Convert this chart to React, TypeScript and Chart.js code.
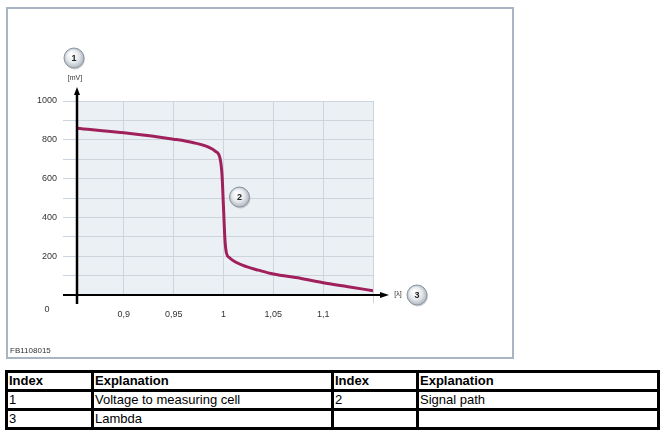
import React, { useEffect, useRef } from 'react';
import { Chart, registerables } from 'chart.js';
Chart.register(...registerables);

// Lambda (x) values and sensor voltage in mV (y)
const lambdaValues = [0.853, 0.9, 0.95, 0.97, 0.985, 0.992, 0.9965, 0.9985, 1.0, 1.0015, 1.003, 1.006, 1.012, 1.023, 1.035, 1.05, 1.077, 1.1, 1.125, 1.15];
const voltageValues = [860, 836, 803, 785, 762, 740, 705, 620, 450, 280, 215, 192, 170, 146, 128, 108, 86, 63, 43, 22];
const xTickValues = [0.9, 0.95, 1, 1.05, 1.1, 1.15];
const xTickLabels = ['0,9', '0,95', '1', '1,05', '1,1', ''];
const yLabelValues = [200, 400, 600, 800, 1000];
const callouts = ['1', '2', '3'];
const yUnit = '[mV]';
const xUnit = '[\u03bb]';
const figureId = 'FB1108015';
const tableHeader = ['Index', 'Explanation', 'Index', 'Explanation'];
const tableRows = [
  ['1', 'Voltage to measuring cell', '2', 'Signal path'],
  ['3', 'Lambda', '', ''],
];

const FONT = 'Arial, "Liberation Sans", sans-serif';

function drawCallout(ctx: CanvasRenderingContext2D, x: number, y: number, label: string) {
  const r = 10;
  ctx.save();
  ctx.beginPath();
  ctx.arc(x + 1, y + 1.5, r, 0, Math.PI * 2);
  ctx.fillStyle = 'rgba(120,130,140,0.35)';
  ctx.fill();
  const g = ctx.createRadialGradient(x - 3, y - 4, 1, x, y, r);
  g.addColorStop(0, '#ffffff');
  g.addColorStop(0.6, '#e4e8ec');
  g.addColorStop(1, '#aeb6be');
  ctx.beginPath();
  ctx.arc(x, y, r, 0, Math.PI * 2);
  ctx.fillStyle = g;
  ctx.fill();
  ctx.lineWidth = 1;
  ctx.strokeStyle = '#8d969f';
  ctx.stroke();
  ctx.fillStyle = '#222';
  ctx.font = 'bold 9px ' + FONT;
  ctx.textAlign = 'center';
  ctx.textBaseline = 'middle';
  ctx.fillText(label, x, y + 0.5);
  ctx.restore();
}

const decoPlugin = {
  id: 'deco',
  beforeDraw(chart: any) {
    const { ctx, chartArea } = chart;
    ctx.save();
    ctx.fillStyle = '#ffffff';
    ctx.fillRect(0, 0, chart.width, chart.height);
    ctx.fillStyle = '#ebf0f5';
    ctx.fillRect(chartArea.left, chartArea.top, chartArea.right - chartArea.left, chartArea.bottom - chartArea.top);
    ctx.strokeStyle = '#a9b5c3';
    ctx.lineWidth = 2;
    ctx.strokeRect(7, 8, 506, 350);
    ctx.restore();
  },
  afterDraw(chart: any) {
    const { ctx, chartArea, scales } = chart;
    const xs = scales.x, ys = scales.y;
    const x0 = chartArea.left;
    const y0 = ys.getPixelForValue(0);
    ctx.save();
    ctx.strokeStyle = '#000';
    ctx.fillStyle = '#000';
    ctx.lineWidth = 2.5;
    // y axis
    ctx.beginPath();
    ctx.moveTo(x0, y0 + 9);
    ctx.lineTo(x0, 92);
    ctx.stroke();
    ctx.beginPath();
    ctx.moveTo(x0, 87);
    ctx.lineTo(x0 - 3, 95);
    ctx.lineTo(x0 + 3, 95);
    ctx.closePath();
    ctx.fill();
    // x axis
    ctx.lineWidth = 2;
    ctx.beginPath();
    ctx.moveTo(x0 - 14, y0);
    ctx.lineTo(383, y0);
    ctx.stroke();
    ctx.beginPath();
    ctx.moveTo(389, y0);
    ctx.lineTo(380, y0 - 3);
    ctx.lineTo(380, y0 + 3);
    ctx.closePath();
    ctx.fill();
    // texts
    ctx.fillStyle = '#333';
    ctx.font = '9px ' + FONT;
    ctx.textAlign = 'center';
    ctx.textBaseline = 'middle';
    ctx.fillText('0', 47, y0 + 15);
    ctx.font = '7px ' + FONT;
    ctx.fillText(yUnit, x0 - 2, 78);
    ctx.fillText(xUnit, 398, y0 - 1);
    ctx.font = '8px ' + FONT;
    ctx.textAlign = 'left';
    ctx.fillText(figureId, 10, 351);
    // callouts
    drawCallout(ctx, x0 - 3, 58, callouts[0]);
    drawCallout(ctx, xs.getPixelForValue(1.016), ys.getPixelForValue(505), callouts[1]);
    drawCallout(ctx, 417, y0, callouts[2]);
    ctx.restore();
  },
};

function ChartView() {
  const ref = useRef<HTMLCanvasElement>(null);
  useEffect(() => {
    if (!ref.current) return;
    const data = lambdaValues.map((x, i) => ({ x, y: voltageValues[i] }));
    const chart = new Chart(ref.current, {
      type: 'line',
      data: {
        datasets: [{
          data,
          borderColor: '#a0205c',
          borderWidth: 3,
          pointRadius: 0,
          cubicInterpolationMode: 'monotone',
          fill: false,
        }],
      },
      options: {
        responsive: false,
        animation: false,
        events: [],
        layout: { padding: { left: 0, top: 101, right: 147, bottom: 0 } },
        plugins: { legend: { display: false }, tooltip: { enabled: false } },
        scales: {
          x: {
            type: 'linear',
            min: 0.853,
            max: 1.15,
            afterFit: (s: any) => { s.height = 67; },
            afterBuildTicks: (s: any) => { s.ticks = xTickValues.map((v) => ({ value: v })); },
            border: { display: false },
            grid: {
              color: '#cdd4db',
              lineWidth: 1,
              drawTicks: true,
              tickLength: 8,
              tickColor: (c: any) => (c.tick && c.tick.value === 1.15 ? '#cdd4db' : 'rgba(0,0,0,0)'),
            },
            ticks: {
              padding: 6,
              color: '#333',
              font: { size: 9, family: FONT },
              maxRotation: 0,
              autoSkip: false,
              callback: (v: any) => {
                const i = xTickValues.findIndex((t) => Math.abs(t - Number(v)) < 1e-6);
                return i >= 0 ? xTickLabels[i] : '';
              },
            },
          },
          y: {
            type: 'linear',
            min: 0,
            max: 1000,
            afterFit: (s: any) => { s.width = 77; },
            border: { display: false },
            grid: { color: '#cdd4db', lineWidth: 1, drawTicks: true, tickLength: 14, tickColor: '#cdd4db' },
            ticks: {
              stepSize: 100,
              padding: 6,
              color: '#333',
              font: { size: 9, family: FONT },
              callback: (v: any) => (yLabelValues.includes(Number(v)) ? String(v) : ''),
            },
          },
        },
      },
      plugins: [decoPlugin],
    } as any);
    return () => chart.destroy();
  }, []);
  return <canvas ref={ref} width={520} height={362} style={{ position: 'absolute', left: 0, top: 0, width: 520, height: 362 }} />;
}

export default function App() {
  const cell: React.CSSProperties = {
    border: '3px solid #000',
    padding: '0 1px',
    height: 16,
    lineHeight: '16px',
    fontFamily: '"Liberation Sans Narrow", "Arial Narrow", Arial, sans-serif',
    fontSize: 13,
    color: '#000',
    textAlign: 'left',
    verticalAlign: 'middle',
    whiteSpace: 'nowrap',
    overflow: 'hidden',
  };
  return (
    <div style={{ position: 'absolute', left: 0, top: 0, width: 664, height: 436, background: '#fff' }}>
      <ChartView />
      <table style={{ position: 'absolute', left: 5, top: 370, width: 652, borderCollapse: 'collapse', tableLayout: 'fixed' }}>
        <colgroup>
          <col style={{ width: 86 }} />
          <col style={{ width: 240 }} />
          <col style={{ width: 85 }} />
          <col style={{ width: 241 }} />
        </colgroup>
        <tbody>
          <tr>
            {tableHeader.map((h, i) => (
              <td key={i} style={{ ...cell, fontWeight: 'bold' }}>{h}</td>
            ))}
          </tr>
          {tableRows.map((r, ri) => (
            <tr key={ri}>
              {r.map((c, ci) => (
                <td key={ci} style={cell}>{c}</td>
              ))}
            </tr>
          ))}
        </tbody>
      </table>
    </div>
  );
}
